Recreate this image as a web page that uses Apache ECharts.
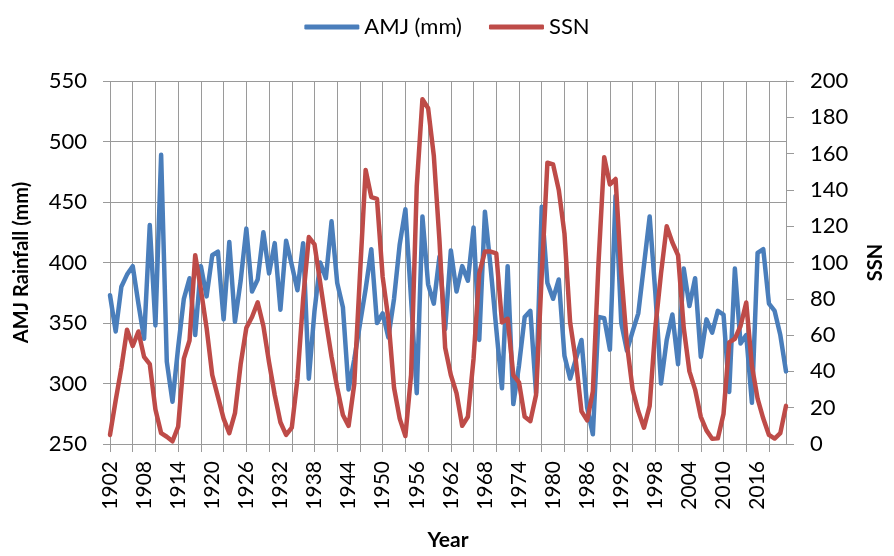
<!DOCTYPE html>
<html>
<head>
<meta charset="utf-8">
<script src="https://cdn.jsdelivr.net/npm/echarts@6/dist/echarts.min.js"></script>
<style>html,body{margin:0;padding:0;background:#fff}#c{width:894px;height:556px}</style>
</head>
<body>
<div id="c"></div>
<script>
const years = [1902,1903,1904,1905,1906,1907,1908,1909,1910,1911,1912,1913,1914,1915,1916,1917,1918,1919,1920,1921,
1922,1923,1924,1925,1926,1927,1928,1929,1930,1931,1932,1933,1934,1935,1936,1937,1938,1939,1940,1941,
1942,1943,1944,1945,1946,1947,1948,1949,1950,1951,1952,1953,1954,1955,1956,1957,1958,1959,1960,1961,
1962,1963,1964,1965,1966,1967,1968,1969,1970,1971,1972,1973,1974,1975,1976,1977,1978,1979,1980,1981,
1982,1983,1984,1985,1986,1987,1988,1989,1990,1991,1992,1993,1994,1995,1996,1997,1998,1999,2000,2001,
2002,2003,2004,2005,2006,2007,2008,2009,2010,2011,2012,2013,2014,2015,2016,2017,2018,2019,2020,2021];

const amj = [373,343,380,390,397,366,337,431,348,489,318,285,330,370,387,340,397,372,406,409,
353,417,351,385,428,376,386,425,391,416,361,418,398,377,416,304,360,400,387,434,
383,363,295,320,349,378,411,350,358,338,370,415,444,370,292,438,382,366,405,345,
410,376,397,385,429,336,442,396,345,296,397,283,315,355,360,292,446,383,370,386,
323,304,320,336,280,258,355,354,328,455,350,327,343,358,398,438,375,300,336,357,
316,395,364,387,322,353,342,360,357,293,395,333,340,284,408,411,366,360,340,310];

const ssn = [5,24,42,63,54,62,48,44,19,6,4,1.5,9.6,47,57,104,85,64,38,26,
14,6,17,44,64,70,78,65,45,27,12,5,9,36,80,114,110,89,68,48,
31,16,10,33,93,151,136,135,92,69,31,14,4.4,38,142,190,185,159,112,53,
38,28,10,15,47,94,106,106,105,67,69,38,34,15,12.6,27,93,155,154,140,
116,67,46,18,13,29,100,158,143,146,94,55,30,18,9,21,64,94,120,111,
104,64,40,30,15,7.5,2.9,3.1,16.5,56,58,65,78,43,25,14,5,3,6,21];

const leftTicks = {min:250, max:550, interval:50};
const rightTicks = {min:0, max:200, interval:20};

const FONT = 'Lato';
const BLUE = '#4a7ebb', RED = '#be4b48', GRID = '#9a9a9a';
const chart = echarts.init(document.getElementById('c'), null, {renderer:'canvas'});
chart.setOption({
  animation:false,
  textStyle:{fontFamily:FONT},
  legend:{
    top:11, left:'center',
    icon:'roundRect',
    itemWidth:55, itemHeight:5, itemGap:27,
    textStyle:{fontFamily:FONT, fontSize:22, color:'#000'},
    data:['AMJ (mm)','SSN']
  },
  grid:{left:110, right:105, top:81, bottom:106},
  xAxis:{
    type:'category', data:years, boundaryGap:false,
    name:'Year', nameLocation:'middle', nameGap:86, nameMoveOverlap:false,
    nameTextStyle:{fontFamily:FONT, fontSize:21, fontWeight:'bold', color:'#000'},
    axisLine:{show:true, lineStyle:{color:GRID, width:1}},
    axisTick:{show:true, interval:3, length:8, lineStyle:{color:GRID}},
    axisLabel:{interval:5, rotate:90, margin:17, fontSize:21, color:'#000', fontFamily:FONT},
    splitLine:{show:true, interval:3, lineStyle:{color:GRID, width:1}}
  },
  yAxis:[{
    type:'value', min:leftTicks.min, max:leftTicks.max, interval:leftTicks.interval,
    name:'AMJ Rainfall (mm)', nameLocation:'middle', nameGap:78, nameRotate:90,
    nameTextStyle:{fontFamily:FONT, fontSize:20, fontWeight:'bold', color:'#000'},
    axisLine:{show:false},
    axisTick:{show:true, length:7, lineStyle:{color:GRID}},
    axisLabel:{margin:23, fontSize:22, color:'#000', fontFamily:FONT},
    splitLine:{show:true, lineStyle:{color:GRID, width:1}}
  },{
    type:'value', min:rightTicks.min, max:rightTicks.max, interval:rightTicks.interval,
    position:'right',
    name:'SSN', nameLocation:'middle', nameGap:80, nameRotate:90,
    nameTextStyle:{fontFamily:FONT, fontSize:20, fontWeight:'bold', color:'#000'},
    axisLine:{show:true, lineStyle:{color:GRID, width:1}},
    axisTick:{show:true, length:8, lineStyle:{color:GRID}},
    axisLabel:{margin:24, fontSize:22, color:'#000', fontFamily:FONT},
    splitLine:{show:false}
  }],
  series:[{
    name:'AMJ (mm)', type:'line', data:amj, yAxisIndex:0,
    symbol:'none', smooth:false,
    lineStyle:{color:BLUE, width:4.5, cap:'round', join:'round'},
    itemStyle:{color:BLUE}
  },{
    name:'SSN', type:'line', data:ssn, yAxisIndex:1,
    symbol:'none', smooth:false,
    lineStyle:{color:RED, width:4.5, cap:'round', join:'round'},
    itemStyle:{color:RED}
  }]
});
</script>
</body>
</html>
